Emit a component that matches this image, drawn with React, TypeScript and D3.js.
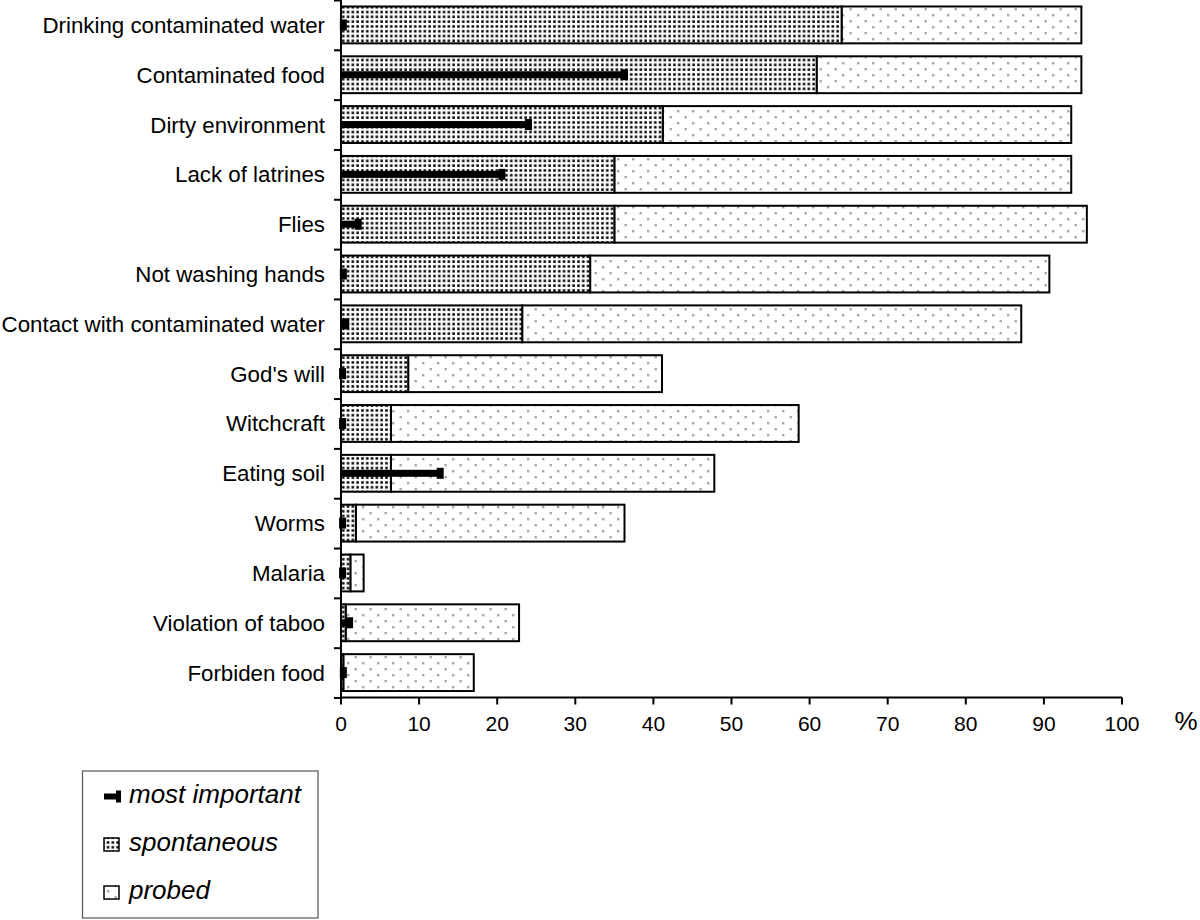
import React from "react";
import * as d3 from "d3";

const categories = [
  "Drinking contaminated water",
  "Contaminated food",
  "Dirty environment",
  "Lack of latrines",
  "Flies",
  "Not washing hands",
  "Contact with contaminated water",
  "God's will",
  "Witchcraft",
  "Eating soil",
  "Worms",
  "Malaria",
  "Violation of taboo",
  "Forbiden food",
];
const spontaneous = [64.1, 60.9, 41.2, 35.0, 35.0, 31.9, 23.2, 8.6, 6.4, 6.4, 1.9, 1.2, 0.6, 0.3];
const probed = [30.7, 33.9, 52.3, 58.5, 60.5, 58.8, 63.9, 32.5, 52.2, 41.4, 34.4, 1.7, 22.2, 16.7];
const mostImportant = [0.3, 36.3, 24.0, 20.6, 2.2, 0.3, 0.6, 0.2, 0.2, 12.7, 0.2, 0.2, 1.1, 0.3];
const xTicks = [0, 10, 20, 30, 40, 50, 60, 70, 80, 90, 100];
const legendItems = ["most important", "spontaneous", "probed"];

const FONT = "'Liberation Sans', Arial, Helvetica, sans-serif";

export default function App() {
  const x = d3.scaleLinear().domain([0, 100]).range([341, 1122]);
  const y = d3
    .scaleBand<string>()
    .domain(categories)
    .range([0, 697.5])
    .paddingInner(0.26)
    .paddingOuter(0.13);
  const step = y.step();
  const axisY = 697.5;
  const boundaries = d3.range(categories.length + 1).map((i) => i * step);

  return (
    <svg
      width={1200}
      height={920}
      style={{ position: "absolute", left: 0, top: 0, background: "#fff" }}
      fontFamily={FONT}
    >
      <defs>
        <pattern id="spont" width={4.8} height={4.8} patternUnits="userSpaceOnUse">
          <rect width={4.8} height={4.8} fill="#fff" />
          <rect x={1.2} y={1.2} width={2.5} height={2.5} fill="#000" />
        </pattern>
        <pattern id="probed" width={15} height={12} patternUnits="userSpaceOnUse">
          <rect width={15} height={12} fill="#fff" />
          <rect x={2} y={2} width={2.4} height={2.4} fill="#a8a8a8" />
          <rect x={9.5} y={8} width={2.4} height={2.4} fill="#a8a8a8" />
        </pattern>
      </defs>

      {/* bars */}
      {categories.map((c, i) => {
        const by = y(c)!;
        const bh = y.bandwidth();
        const s = spontaneous[i];
        const p = probed[i];
        return (
          <g key={c}>
            <rect
              x={x(s)}
              y={by}
              width={x(s + p) - x(s)}
              height={bh}
              fill="url(#probed)"
              stroke="#000"
              strokeWidth={2}
            />
            <rect
              x={x(0)}
              y={by}
              width={x(s) - x(0)}
              height={bh}
              fill="url(#spont)"
              stroke="#000"
              strokeWidth={2}
            />
          </g>
        );
      })}

      {/* most important */}
      {categories.map((c, i) => {
        const cy = y(c)! + y.bandwidth() / 2;
        const v = mostImportant[i];
        return (
          <g key={"m" + c}>
            <rect x={x(0)} y={cy - 3.5} width={x(v) - x(0)} height={7} fill="#000" />
            <rect x={x(v) - 3.5} y={cy - 5.5} width={7} height={11} fill="#000" />
          </g>
        );
      })}

      {/* y axis */}
      <line x1={x(0)} x2={x(0)} y1={0} y2={axisY} stroke="#000" strokeWidth={2} />
      {boundaries.map((b, i) => (
        <line key={"yt" + i} x1={x(0) - 7} x2={x(0)} y1={b + 0.5} y2={b + 0.5} stroke="#000" strokeWidth={2} />
      ))}
      {categories.map((c) => (
        <text
          key={"yl" + c}
          x={325}
          y={y(c)! + y.bandwidth() / 2 + 8}
          textAnchor="end"
          fontSize={22.3}
          fill="#000"
        >
          {c}
        </text>
      ))}

      {/* x axis */}
      <line x1={x(0) - 1} x2={x(100)} y1={axisY} y2={axisY} stroke="#000" strokeWidth={2} />
      {xTicks.map((t) => (
        <g key={"xt" + t}>
          <line x1={x(t)} x2={x(t)} y1={axisY} y2={axisY + 7} stroke="#000" strokeWidth={2} />
          <text x={x(t)} y={731} textAnchor="middle" fontSize={21} fill="#000">
            {t}
          </text>
        </g>
      ))}
      <text x={1186} y={730} textAnchor="middle" fontSize={26} fill="#000">
        %
      </text>

      {/* legend */}
      <rect x={82.5} y={771} width={235.5} height={147} fill="#fff" stroke="#555" strokeWidth={1.2} />
      {legendItems.map((l, i) => {
        const base = 803 + i * 48;
        return (
          <g key={l}>
            {i === 0 && (
              <g>
                <rect x={104} y={base - 9.5} width={14} height={6} fill="#000" />
                <rect x={116} y={base - 12.5} width={5} height={12} fill="#000" />
              </g>
            )}
            {i === 1 && (
              <rect x={104} y={base - 13} width={15} height={13} fill="url(#spont)" stroke="#000" strokeWidth={1.5} />
            )}
            {i === 2 && (
              <rect x={104} y={base - 13} width={15} height={13} fill="url(#probed)" stroke="#000" strokeWidth={1.5} />
            )}
            <text x={129} y={base} fontSize={26} fontStyle="italic" fill="#000">
              {l}
            </text>
          </g>
        );
      })}
    </svg>
  );
}
